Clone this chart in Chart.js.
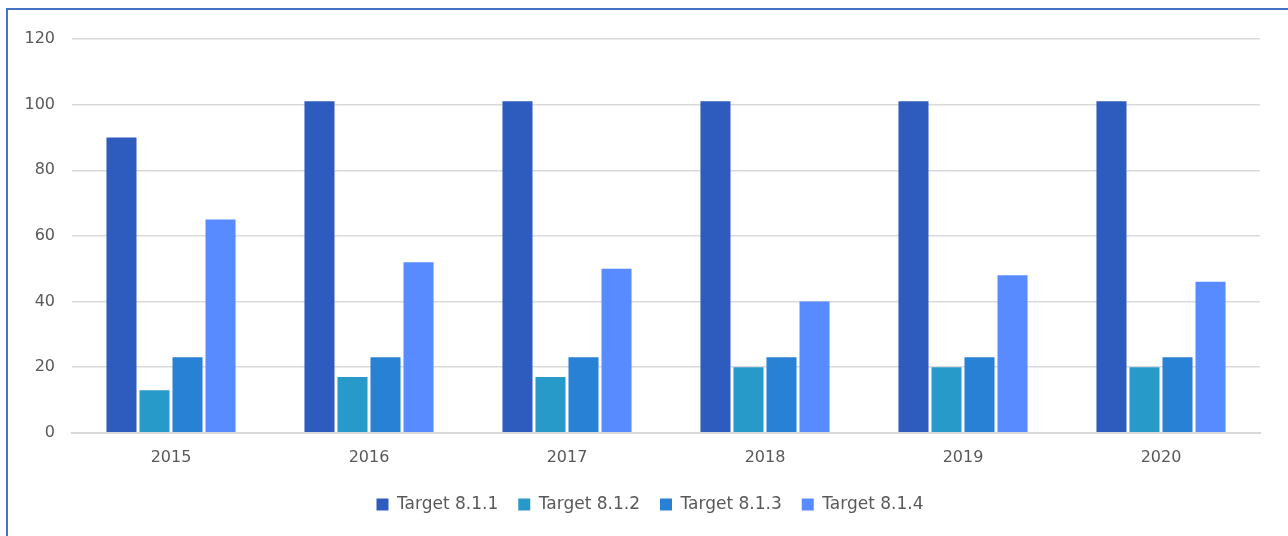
<!DOCTYPE html>
<html>
<head>
<meta charset="utf-8">
<script src="https://cdn.jsdelivr.net/npm/chart.js@4"></script>
<style>
  html, body { margin: 0; padding: 0; background: #fff; overflow: hidden; }
  #frame {
    position: absolute; left: 6px; top: 8px; width: 1400px; height: 700px;
    border-left: 2px solid #4472C4; border-top: 2px solid #4472C4;
  }
  #wrap { position: absolute; left: 0; top: 0; width: 1288px; height: 536px; }
</style>
</head>
<body>
<div id="frame"></div>
<div id="wrap"><canvas id="myChart" width="1288" height="536"></canvas></div>
<script>
const years = ["2015", "2016", "2017", "2018", "2019", "2020"];
const target811 = [90, 101, 101, 101, 101, 101];
const target812 = [13, 17, 17, 20, 20, 20];
const target813 = [23, 23, 23, 23, 23, 23];
const target814 = [65, 52, 50, 40, 48, 46];
const yTicks = [0, 20, 40, 60, 80, 100, 120];

const fontFamily = "'DejaVu Sans', sans-serif";

// nudge the legend a bit right / down, the original is centred on the whole frame
const legendShift = {
  id: "legendShift",
  afterLayout(chart) {
    const lg = chart.legend;
    lg.left += 20; lg.right += 20;
    lg.top += 2; lg.bottom += 2;
  }
};

const ctx = document.getElementById("myChart").getContext('2d');
const myChart = new Chart(ctx, {
  type: "bar",
  data: {
    labels: years,
    datasets: [
      { label: "Target 8.1.1", data: target811, backgroundColor: "#2E5BBE" },
      { label: "Target 8.1.2", data: target812, backgroundColor: "#279ACA" },
      { label: "Target 8.1.3", data: target813, backgroundColor: "#2981D5" },
      { label: "Target 8.1.4", data: target814, backgroundColor: "#588BFF" }
    ]
  },
  options: {
    responsive: false,
    animation: false,
    layout: { padding: { left: 0, right: 28, top: 39, bottom: 15 } },
    datasets: {
      bar: { categoryPercentage: 0.667, barPercentage: 0.91 }
    },
    scales: {
      x: {
        grid: { display: false },
        border: { color: "#D9D9D9", width: 2 },
        ticks: { color: "#595959", font: { family: fontFamily, size: 16 }, padding: 7 }
      },
      y: {
        min: 0,
        max: 120,
        afterBuildTicks: axis => { axis.ticks = yTicks.map(v => ({ value: v })); },
        afterFit: axis => { axis.width = 72; },
        grid: { color: "#D9D9D9", lineWidth: 1.5, drawTicks: false },
        border: { display: false },
        ticks: { color: "#595959", font: { family: fontFamily, size: 16 }, padding: 17 }
      }
    },
    plugins: {
      tooltip: { enabled: false },
      legend: {
        position: "bottom",
        labels: {
          color: "#595959",
          font: { family: fontFamily, size: 17 },
          boxWidth: 12,
          boxHeight: 12,
          padding: 20
        }
      }
    }
  },
  plugins: [legendShift]
});
</script>
</body>
</html>
